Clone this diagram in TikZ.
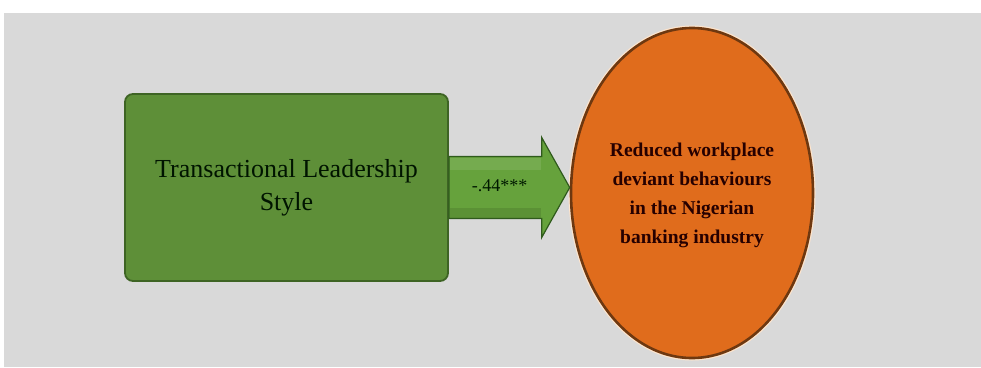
\documentclass[tikz,border=0pt]{standalone}
\usepackage{fontspec}
\setmainfont{Liberation Serif}
\usetikzlibrary{calc,shapes.geometric}
\definecolor{bgray}{HTML}{D9D9D9}
\definecolor{boxgreen}{HTML}{5E8F38}
\definecolor{boxedge}{HTML}{3E6424}
\definecolor{arrgreen}{HTML}{66A23C}
\definecolor{arredge}{HTML}{2F5A1C}
\definecolor{ovorange}{HTML}{E06C1C}
\definecolor{ovedge}{HTML}{6E3810}
\tikzset{leadbox/.style={draw=boxedge,line width=1.8pt,fill=boxgreen,rounded corners=8pt,
    minimum width=323pt,minimum height=187pt,align=center,font=\fontsize{26}{33}\selectfont,text=black!92!green},
  outcome/.style={ellipse,draw=ovedge,line width=2.6pt,fill=ovorange,inner sep=0pt,
    minimum width=242pt,minimum height=330pt,align=center,font=\bfseries\fontsize{19.5}{29}\selectfont,text=black!85!red},
  fatarrow/.style={draw=arredge,line width=1.2pt,fill=arrgreen,line join=miter}}
\begin{document}
\begin{tikzpicture}[x=1pt,y=-1pt]
\useasboundingbox (0,0) rectangle (981,367);
\fill[bgray] (4,13) rectangle (981,367);
% --- the two blocks
\node[leadbox] (tls) at (286.5,187.5) {Transactional Leadership\\Style};
\node[outcome,draw=white!80!orange,line width=5pt] (halo) at (692,193) {};
\node[outcome] (rwdb) at (692,193) {\\[-10pt]Reduced workplace\\deviant behaviours\\in the Nigerian\\banking industry};
% --- fat arrow from the box to the oval
\draw[fatarrow] let \p1=(tls.east), \p2=(rwdb.west) in
  (\x1,\y1-31) -- (\x2-28,\y1-31) -- (\x2-28,\y1-50) -- (\x2,\y1) -- (\x2-28,\y1+50) -- (\x2-28,\y1+31) -- (\x1,\y1+31) -- cycle;
\fill[white,opacity=0.1] let \p1=(tls.east), \p2=(rwdb.west) in
  (\x1+1,\y1+30) rectangle (\x2-29,\y1+18);
\fill[black,opacity=0.1] let \p1=(tls.east), \p2=(rwdb.west) in
  (\x1+1,\y1-30) rectangle (\x2-29,\y1-20);
\node[font=\fontsize{18}{20}\selectfont,text=black!90!green] (coef) at ($(tls.east)!0.42!(rwdb.west)+(0,-4)$) {-.44***};
\end{tikzpicture}
\end{document}
